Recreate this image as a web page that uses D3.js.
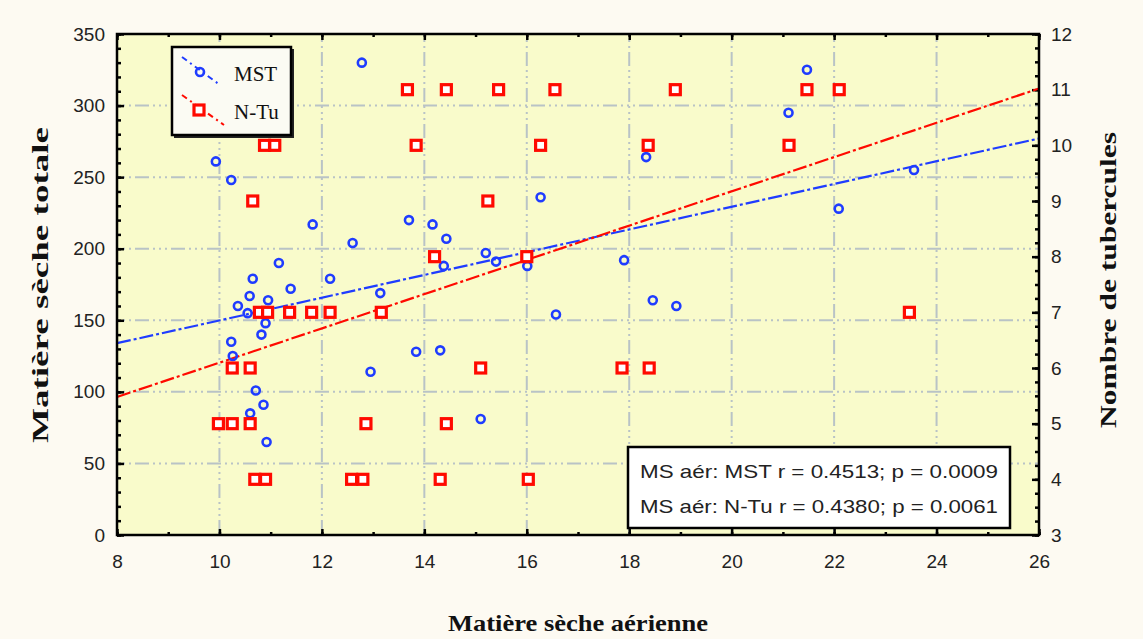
<!DOCTYPE html>
<html lang="fr">
<head>
<meta charset="UTF-8">
<title>Matière sèche</title>
<script src="https://cdnjs.cloudflare.com/ajax/libs/d3/7.8.5/d3.min.js"></script>
<style>
    body { margin: 0; background: #fdfaf2; }
    svg { display: block; }
    .lbl { font-family: "Liberation Sans", Arial, sans-serif; font-size: 19px; fill: #222; }
    .title { font-family: "Liberation Serif", "Times New Roman", serif; font-weight: bold; font-size: 24px; fill: #111; }
    .grid line { stroke: #b9c3c6; stroke-width: 2; stroke-dasharray: 2,4,2,4,2,4,14,4; }
    .axis path { display: none; }
    .axis line { stroke: #000; stroke-width: 2.5; }
</style>
</head>
<body>
<svg width="1143" height="639"></svg>
<script>
    // values
    const mstX = [9.93, 10.23, 12.78, 21.47, 21.11, 11.82, 12.6, 13.7, 14.16, 14.43, 16.27, 17.9, 18.33, 22.09, 23.56,
                  18.46, 18.92, 11.16, 10.65, 11.39, 12.16, 10.59, 10.95, 10.36, 13.14, 14.38, 10.55, 10.9, 10.23, 10.82,
                  10.26, 13.84, 14.31, 12.95, 10.71, 10.86, 10.6, 10.92, 15.2, 15.4, 16.01, 16.57, 15.1];
    const mstY = [261, 248, 330, 325, 295, 217, 204, 220, 217, 207, 236, 192, 264, 228, 255,
                  164, 160, 190, 179, 172, 179, 167, 164, 160, 169, 188, 155, 148, 135, 140,
                  125, 128, 129, 114, 101, 91, 85, 65, 197, 191, 188, 154, 81];

    const ntuX = [13.67, 14.43, 15.45, 16.55, 18.9, 21.47, 22.1,
                  10.88, 11.08, 13.84, 16.27, 18.37, 21.12,
                  10.65, 15.24,
                  14.2, 16.0,
                  10.78, 10.94, 11.37, 11.8, 12.16, 13.16, 23.47,
                  10.25, 10.6, 15.1, 17.86, 18.39,
                  9.98, 10.25, 10.6, 12.86, 14.43,
                  10.69, 10.9, 12.58, 12.8, 14.31, 16.03];
    const ntuY = [11, 11, 11, 11, 11, 11, 11,
                  10, 10, 10, 10, 10, 10,
                  9, 9,
                  8, 8,
                  7, 7, 7, 7, 7, 7, 7,
                  6, 6, 6, 6, 6,
                  5, 5, 5, 5, 5,
                  4, 4, 4, 4, 4, 4];

    // trend lines: value at x = 8 and x = 26
    const trendX = [8, 26];
    const mstTrend = [134, 277];
    const ntuTrend = [5.48, 11.02];

    const xTicks = [8, 10, 12, 14, 16, 18, 20, 22, 24, 26];
    const leftTicks = [0, 50, 100, 150, 200, 250, 300, 350];
    const rightTicks = [3, 4, 5, 6, 7, 8, 9, 10, 11, 12];
    const statLines = ["MS aér: MST   r = 0.4513; p = 0.0009", "MS aér: N-Tu   r = 0.4380; p = 0.0061"];

    const L = 117, R = 1039, T = 34, B = 535;
    const blue = "#1f3cff", red = "#ff0a00";

    const svg = d3.select("svg");
    const x = d3.scaleLinear().domain([8, 26]).range([L, R]);
    const yL = d3.scaleLinear().domain([0, 350]).range([B, T]);
    const yR = d3.scaleLinear().domain([3, 12]).range([B, T]);

    svg.append("rect").attr("x", L).attr("y", T).attr("width", R - L).attr("height", B - T).attr("fill", "#f9fbcb");

    // grid
    const grid = svg.append("g").attr("class", "grid");
    grid.selectAll(".v").data(xTicks.slice(1, -1)).enter().append("line")
        .attr("x1", d => x(d)).attr("x2", d => x(d)).attr("y1", T).attr("y2", B);
    grid.selectAll(".h").data(leftTicks.slice(1, -1)).enter().append("line")
        .attr("y1", d => yL(d)).attr("y2", d => yL(d)).attr("x1", L).attr("x2", R);

    // ticks (inside)
    function addAxis(axis, tx, ty) {
        const g = svg.append("g").attr("class", "axis").attr("transform", `translate(${tx},${ty})`).call(axis);
        return g;
    }
    const minorX = d3.range(8, 26.01, 1), minorL = d3.range(0, 350.1, 10), minorR = d3.range(3, 12.01, 0.25);
    addAxis(d3.axisBottom(x).tickValues(minorX).tickSize(-3).tickFormat(""), 0, B);
    addAxis(d3.axisTop(x).tickValues(minorX).tickSize(-3).tickFormat(""), 0, T);
    addAxis(d3.axisLeft(yL).tickValues(minorL).tickSize(-4).tickFormat(""), L, 0);
    addAxis(d3.axisRight(yR).tickValues(minorR).tickSize(-4).tickFormat(""), R, 0);

    const bx = addAxis(d3.axisBottom(x).tickValues(xTicks).tickSize(-6).tickPadding(20), 0, B);
    addAxis(d3.axisTop(x).tickValues(xTicks).tickSize(-6).tickFormat(""), 0, T);
    const ly = addAxis(d3.axisLeft(yL).tickValues(leftTicks).tickSize(-7).tickPadding(12), L, 0);
    const ry = addAxis(d3.axisRight(yR).tickValues(rightTicks).tickSize(-7).tickPadding(12), R, 0);
    [bx, ly, ry].forEach(g => g.selectAll("text").attr("class", "lbl").attr("fill", null).style("font-size", null).style("font-family", null));
    svg.selectAll(".axis").attr("font-size", null).attr("font-family", null);

    // trend lines
    const lineL = d3.line().x((d, i) => x(trendX[i])).y(d => yL(d));
    const lineR = d3.line().x((d, i) => x(trendX[i])).y(d => yR(d));
    svg.append("path").attr("d", lineL(mstTrend)).attr("stroke", blue).attr("stroke-width", 2.2)
        .attr("fill", "none").attr("stroke-dasharray", "14,3,3,3");
    svg.append("path").attr("d", lineR(ntuTrend)).attr("stroke", red).attr("stroke-width", 2.2)
        .attr("fill", "none").attr("stroke-dasharray", "14,3,3,3");

    // points
    svg.append("g").selectAll("circle").data(mstX).enter().append("circle")
        .attr("cx", d => x(d)).attr("cy", (d, i) => yL(mstY[i])).attr("r", 4)
        .attr("fill", "none").attr("stroke", blue).attr("stroke-width", 2.6);
    svg.append("g").selectAll("rect").data(ntuX).enter().append("rect")
        .attr("x", d => x(d) - 5).attr("y", (d, i) => yR(ntuY[i]) - 5).attr("width", 10).attr("height", 10)
        .attr("fill", "#fff").attr("stroke", red).attr("stroke-width", 3.2);

    // frame
    svg.append("rect").attr("x", L).attr("y", T).attr("width", R - L).attr("height", B - T)
        .attr("fill", "none").attr("stroke", "#000").attr("stroke-width", 2.5);

    // legend
    const lg = svg.append("g").attr("transform", "translate(172,47)");
    lg.append("rect").attr("x", 2).attr("y", 2).attr("width", 120).attr("height", 89).attr("fill", "#222");
    lg.append("rect").attr("width", 119).attr("height", 88).attr("fill", "#fbfbf3").attr("stroke", "#000").attr("stroke-width", 2.5);
    lg.append("line").attr("x1", 10).attr("y1", 10).attr("x2", 48).attr("y2", 38)
        .attr("stroke", blue).attr("stroke-width", 2).attr("stroke-dasharray", "6,4,2,4");
    lg.append("circle").attr("cx", 28).attr("cy", 25).attr("r", 4).attr("fill", "none").attr("stroke", blue).attr("stroke-width", 2.6);
    lg.append("line").attr("x1", 10).attr("y1", 48).attr("x2", 52).attr("y2", 78)
        .attr("stroke", red).attr("stroke-width", 2).attr("stroke-dasharray", "6,4,2,4");
    lg.append("rect").attr("x", 22).attr("y", 58).attr("width", 10).attr("height", 10)
        .attr("fill", "#fff").attr("stroke", red).attr("stroke-width", 3.2);
    lg.append("text").attr("x", 62).attr("y", 34).attr("class", "title").style("font-weight", "normal").style("font-size", "21px").text("MST");
    lg.append("text").attr("x", 62).attr("y", 72).attr("class", "title").style("font-weight", "normal").style("font-size", "21px").text("N-Tu");

    // stats box
    const sb = svg.append("g").attr("transform", "translate(628,447)");
    sb.append("rect").attr("width", 382).attr("height", 81).attr("fill", "#fff").attr("stroke", "#000").attr("stroke-width", 2.5);
    sb.selectAll("text").data(statLines).enter().append("text")
        .attr("class", "lbl").attr("x", 12).attr("y", (d, i) => 31 + i * 35)
        .attr("textLength", 358).attr("lengthAdjust", "spacingAndGlyphs").text(d => d);

    // axis titles
    svg.append("text").attr("class", "title").attr("text-anchor", "middle")
        .attr("transform", "translate(48,285) rotate(-90)")
        .attr("textLength", 316).attr("lengthAdjust", "spacingAndGlyphs").text("Matière sèche totale");
    svg.append("text").attr("class", "title").attr("text-anchor", "middle")
        .attr("transform", "translate(1116,280) rotate(-90)")
        .attr("textLength", 296).attr("lengthAdjust", "spacingAndGlyphs").text("Nombre de tubercules");
    svg.append("text").attr("class", "title").attr("text-anchor", "middle")
        .attr("x", 578).attr("y", 631)
        .attr("textLength", 260).attr("lengthAdjust", "spacingAndGlyphs").text("Matière sèche aérienne");
</script>
</body>
</html>
